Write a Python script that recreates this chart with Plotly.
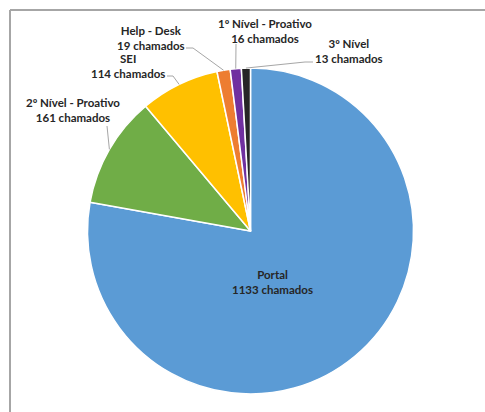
import math
import plotly.graph_objects as go

W, H = 485, 412

# Chamados por fila de atendimento
categorias = ["Portal", "2º Nível - Proativo", "SEI", "Help - Desk",
              "1º Nível - Proativo", "3º Nível"]
chamados = [1133, 161, 114, 19, 16, 13]
cores = ["#5B9BD5", "#70AD47", "#FFC000", "#ED7D31", "#7030A0", "#262626"]

# Pie geometry in pixels
cx, cy, r = 250.5, 231, 163


def px(x):
    return x / W


def py(y):
    return 1 - y / H


fig = go.Figure(go.Pie(
    labels=categorias,
    values=chamados,
    sort=False,
    direction="clockwise",
    rotation=0,
    marker=dict(colors=cores, line=dict(color="white", width=1.5)),
    textinfo="none",
    hoverinfo="label+value",
    showlegend=False,
    domain=dict(x=[px(cx - r), px(cx + r)], y=[py(cy + r), py(cy - r)]),
))

# Label placement (centre of text block) and leader-line anchor/elbow, in pixels
rotulos = {
    "Portal": dict(pos=(272, 282), linha=None),
    "2º Nível - Proativo": dict(pos=(73, 110), linha=[(107, 126), (107, 126)]),
    "SEI": dict(pos=(128, 66), linha=[(167, 76), (173, 76)]),
    "Help - Desk": dict(pos=(151, 38), linha=[(186, 48), (193, 48)]),
    "1º Nível - Proativo": dict(pos=(265, 31), linha=[(236, 44), (236, 44)]),
    "3º Nível": dict(pos=(349, 51), linha=[(313, 62), (305, 62)]),
}

total = sum(chamados)
acum = 0
shapes = []
annotations = []
fonte = dict(family="Lato", size=11.5, color="#262626")
for nome, valor in zip(categorias, chamados):
    meio = (acum + valor / 2) / total * 2 * math.pi
    acum += valor
    info = rotulos[nome]
    x0, y0 = info["pos"]
    annotations.append(dict(
        x=px(x0), y=py(y0), xref="paper", yref="paper",
        text=f"<b>{nome}</b><br><b>{valor} chamados</b>",
        showarrow=False, align="center", font=fonte,
        xanchor="center", yanchor="middle",
    ))
    if info["linha"]:
        ex = cx + r * math.sin(meio)
        ey = cy - r * math.cos(meio)
        (ax, ay), (bx, by) = info["linha"]
        path = f"M {px(ax)} {py(ay)} L {px(bx)} {py(by)} L {px(ex)} {py(ey)}"
        shapes.append(dict(type="path", path=path, xref="paper", yref="paper",
                           line=dict(color="#A6A6A6", width=1)))

# Chart area border (top and left edges)
shapes.append(dict(type="line", xref="paper", yref="paper",
                   x0=px(10), y0=py(10), x1=1, y1=py(10),
                   line=dict(color="#A6A6A6", width=2)))
shapes.append(dict(type="line", xref="paper", yref="paper",
                   x0=px(10), y0=py(10), x1=px(10), y1=0,
                   line=dict(color="#A6A6A6", width=2)))

fig.update_layout(
    width=W, height=H,
    margin=dict(l=0, r=0, t=0, b=0),
    paper_bgcolor="white",
    plot_bgcolor="white",
    shapes=shapes,
    annotations=annotations,
)

fig.write_html("out.html")
